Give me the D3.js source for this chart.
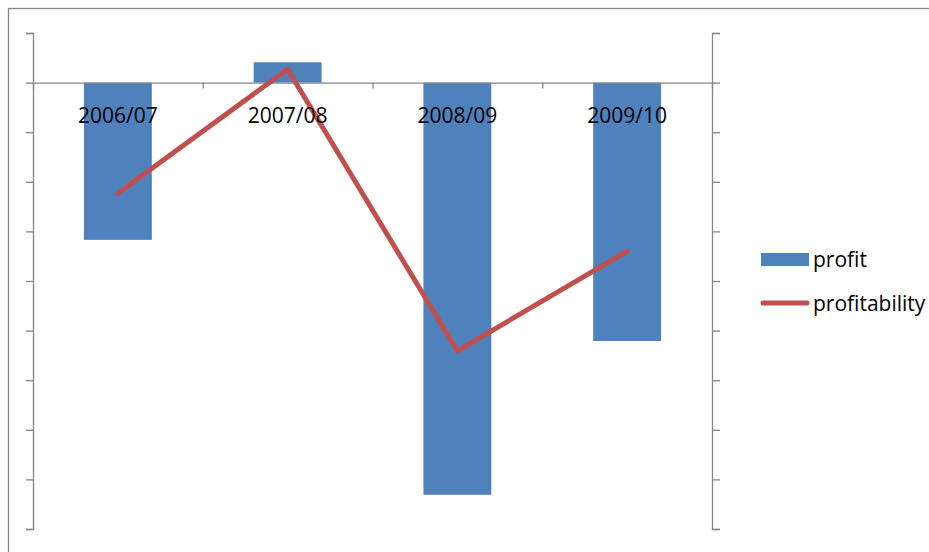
<!DOCTYPE html>
<html>
<head>
<meta charset="utf-8">
<script src="https://cdn.jsdelivr.net/npm/d3@7"></script>
<style>
  body { margin: 0; background: #fff; }
  svg { display: block; font-family: "Open Sans", sans-serif; }
  .axis path, .axis line { stroke: #868686; stroke-width: 1.3; }
</style>
</head>
<body>
<div id="chart"></div>
<script>
const years = ["2006/07", "2007/08", "2008/09", "2009/10"];
const profit = [-317, 41, -831, -521];            // left axis
const profitability = [-4.46, 0.54, -10.82, -6.8]; // right axis, %
const profitTicks = d3.range(-900, 101, 100);
const rateTicks = d3.range(-18, 2.1, 2);

const width = 929;
const height = 552;

const plot = { left: 33, right: 712, top: 33, bottom: 529 };

const svg = d3.select("#chart")
  .append("svg")
  .attr("width", width)
  .attr("height", height);

// chart frame (runs off the right and bottom edges)
svg.append("rect")
  .attr("x", 8.5).attr("y", 8.5)
  .attr("width", 960).attr("height", 580)
  .attr("fill", "none")
  .attr("stroke", "#868686")
  .attr("stroke-width", 1.3);

const x = d3.scaleBand()
  .domain(years)
  .range([plot.left, plot.right])
  .paddingInner(0.6)
  .paddingOuter(0.3);

const yLeft = d3.scaleLinear().domain([-900, 100]).range([plot.bottom, plot.top]);
const yRight = d3.scaleLinear().domain([-18, 2]).range([plot.bottom, plot.top]);

// bars
svg.append("g")
  .selectAll("rect")
  .data(years)
  .join("rect")
  .attr("x", d => x(d))
  .attr("width", x.bandwidth())
  .attr("y", (d, i) => yLeft(Math.max(0, profit[i])))
  .attr("height", (d, i) => Math.abs(yLeft(profit[i]) - yLeft(0)))
  .attr("fill", "#4F81BD");

// value axes
svg.append("g")
  .attr("class", "axis")
  .attr("transform", `translate(${plot.left},0)`)
  .call(d3.axisLeft(yLeft).tickValues(profitTicks).tickSize(7).tickFormat(""));

svg.append("g")
  .attr("class", "axis")
  .attr("transform", `translate(${plot.right},0)`)
  .call(d3.axisRight(yRight).tickValues(rateTicks).tickSize(8).tickFormat(""));

// category axis at zero, ticks on band boundaries
const xEdges = d3.scaleLinear().domain([0, years.length]).range([plot.left, plot.right]);
svg.append("g")
  .attr("class", "axis")
  .attr("transform", `translate(0,${yLeft(0)})`)
  .call(d3.axisBottom(xEdges).tickValues(d3.range(0, years.length + 1)).tickSize(6).tickSizeOuter(0).tickFormat(""));

// profitability line
const line = d3.line()
  .x((d, i) => x(years[i]) + x.bandwidth() / 2)
  .y(d => yRight(d));

svg.append("path")
  .datum(profitability)
  .attr("d", line)
  .attr("fill", "none")
  .attr("stroke", "#C0504D")
  .attr("stroke-width", 5)
  .attr("stroke-linecap", "round")
  .attr("stroke-linejoin", "round");

// category labels
svg.append("g")
  .selectAll("text")
  .data(years)
  .join("text")
  .attr("x", d => x(d) + x.bandwidth() / 2)
  .attr("y", 123)
  .attr("text-anchor", "middle")
  .attr("font-size", 21)
  .attr("fill", "#000")
  .text(d => d);

// legend
const legend = svg.append("g");
legend.append("rect")
  .attr("x", 761).attr("y", 253)
  .attr("width", 48).attr("height", 13)
  .attr("fill", "#4F81BD");
legend.append("line")
  .attr("x1", 763).attr("x2", 807)
  .attr("y1", 303).attr("y2", 303)
  .attr("stroke", "#C0504D")
  .attr("stroke-width", 5)
  .attr("stroke-linecap", "round");
legend.selectAll("text")
  .data(["profit", "profitability"])
  .join("text")
  .attr("x", 813)
  .attr("y", (d, i) => 267 + i * 44)
  .attr("font-size", 21)
  .attr("fill", "#000")
  .text(d => d);
</script>
</body>
</html>
